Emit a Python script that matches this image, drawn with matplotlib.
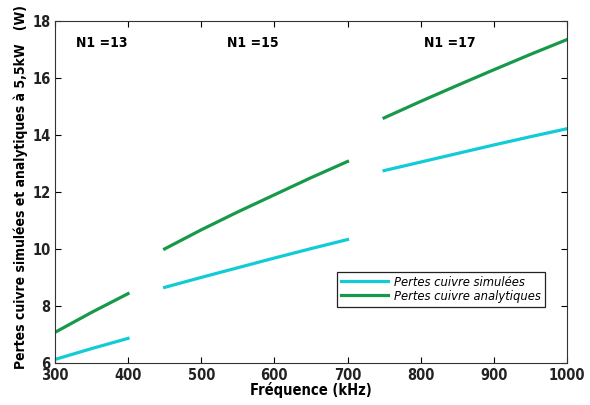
import matplotlib
matplotlib.use("Agg")
from matplotlib import pyplot as plt

plt.rcParams['font.family'] = ['DejaVu Sans']
plt.rcParams['font.stretch'] = 'condensed'

# Data
freq_13 = [300, 350, 400]
sim_13 = [6.12, 6.50, 6.86]
ana_13 = [7.07, 7.77, 8.43]

freq_15 = [450, 500, 550, 600, 650, 700]
sim_15 = [8.65, 9.00, 9.34, 9.68, 10.01, 10.33]
ana_15 = [10.00, 10.67, 11.30, 11.90, 12.50, 13.07]

freq_17 = [750, 800, 850, 900, 950, 1000]
sim_17 = [12.75, 13.05, 13.35, 13.65, 13.94, 14.22]
ana_17 = [14.60, 15.18, 15.74, 16.29, 16.83, 17.35]

group_labels = ['N1 =13', 'N1 =15', 'N1 =17']
group_x = [364, 570, 840]
group_y = 17.23

c_sim = '#11ccd6'
c_ana = '#17994a'

fig = plt.figure(figsize=(5.9, 4.05), dpi=100)
ax = fig.add_axes([0.093, 0.104, 0.868, 0.844])

segments = [(freq_13, sim_13, ana_13), (freq_15, sim_15, ana_15), (freq_17, sim_17, ana_17)]
for i, (f, s, a) in enumerate(segments):
    ax.plot(f, s, color=c_sim, lw=2.3, label='Pertes cuivre simulées' if i == 0 else None)
    ax.plot(f, a, color=c_ana, lw=2.3, label='Pertes cuivre analytiques' if i == 0 else None)

for lab, x in zip(group_labels, group_x):
    ax.text(x, group_y, lab, ha='center', va='center', fontsize=10, fontweight='bold')

ax.set_xlim(300, 1000)
ax.set_ylim(6, 18)
ax.set_xticks(range(300, 1001, 100))
ax.set_yticks(range(6, 19, 2))
ax.tick_params(direction='in', top=True, right=True, length=4, labelsize=10.5)
ax.tick_params(axis='x', pad=4)
ax.tick_params(axis='y', pad=3)
for lbl in ax.get_xticklabels() + ax.get_yticklabels():
    lbl.set_fontweight('bold')
    lbl.set_color('#222222')
for sp in ax.spines.values():
    sp.set_color('#333333')

ax.set_xlabel('Fréquence (kHz)', fontsize=10.5, fontweight='bold', labelpad=-1)
ax.set_ylabel('Pertes cuivre simulées et analytiques à 5,5kW   (W)', fontsize=10,
              fontweight='bold')
ax.yaxis.set_label_coords(-0.052, 0.515)

leg = ax.legend(loc='lower right', bbox_to_anchor=(0.957, 0.164), fancybox=False,
                edgecolor='#222222', framealpha=1, borderpad=0.3, handlelength=3.6,
                handletextpad=0.5, borderaxespad=0.0,
                labelspacing=0.1, prop={'style': 'italic', 'size': 9.3, 'stretch': 'condensed'})
leg.get_frame().set_linewidth(0.9)

fig.savefig('out.png', dpi=100)
